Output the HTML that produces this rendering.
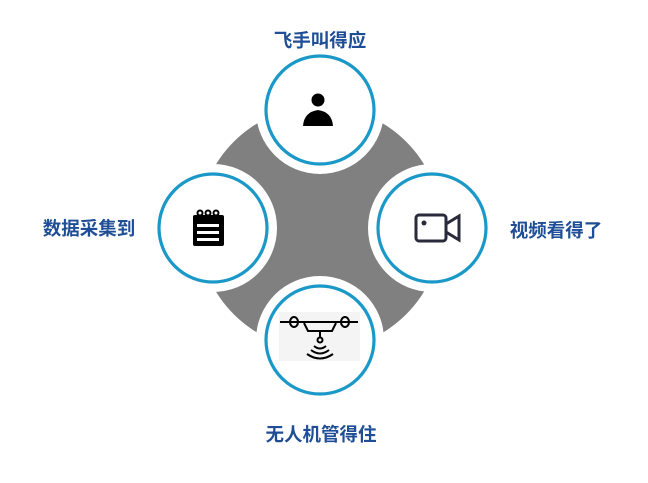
<!DOCTYPE html>
<html><head><meta charset="utf-8"><style>
html,body{margin:0;padding:0;background:#fff;width:648px;height:483px;overflow:hidden}
svg{display:block}
text{font-family:"Liberation Sans","Noto Sans CJK SC",sans-serif;font-weight:bold;fill:#1f4e96;font-size:18.5px}
</style></head><body>
<svg width="648" height="483" viewBox="0 0 648 483">
<circle cx="320" cy="228" r="122" fill="#808080"/>
<g fill="#fff">
<circle cx="320" cy="110" r="64"/>
<circle cx="213" cy="228" r="64"/>
<circle cx="432" cy="228" r="64"/>
<circle cx="320" cy="340" r="64"/>
</g>
<g fill="#fff" stroke="#1a98c8" stroke-width="3.2">
<circle cx="320" cy="110" r="54"/>
<circle cx="213" cy="228" r="54"/>
<circle cx="432" cy="228" r="54"/>
</g>
<!-- person -->
<circle cx="318" cy="100" r="6.5" fill="#000"/>
<path d="M303 126 Q304 112 318 110 Q332 112 333 126 Z" fill="#000"/>
<!-- notepad -->
<rect x="193" y="215" width="31" height="31" rx="2" fill="#000"/>
<g fill="#fff"><rect x="197" y="224" width="22" height="3"/><rect x="197" y="231" width="22" height="3"/><rect x="197" y="238" width="22" height="3"/></g>
<g fill="none" stroke="#000" stroke-width="2"><circle cx="200" cy="213" r="2.5"/><circle cx="208" cy="213" r="2.5"/><circle cx="216" cy="213" r="2.5"/></g>
<!-- camera -->
<rect x="416" y="215" width="30" height="26" rx="3" fill="none" stroke="#2a2a3a" stroke-width="3"/>
<circle cx="424" cy="223" r="2.5" fill="#2a2a3a"/>
<path d="M446 224 L459 216 L459 240 L446 232" fill="none" stroke="#2a2a3a" stroke-width="3"/>
<!-- bottom circle -->
<circle cx="320" cy="340" r="54" fill="#fff" stroke="#1a98c8" stroke-width="3.2"/>
<rect x="279" y="312" width="81" height="49" fill="#f4f4f4"/>
<g fill="none" stroke="#000" stroke-width="2">
<line x1="280" y1="322" x2="358" y2="322"/>
<ellipse cx="294" cy="322" rx="4" ry="5"/>
<ellipse cx="345" cy="322" rx="4" ry="5"/>
<path d="M304 323 L308 331 L332 331 L336 323"/>
<line x1="320" y1="331" x2="320" y2="338"/>
<circle cx="320" cy="340" r="2.5"/>
<path d="M314 346 Q320 351 326 346"/>
<path d="M311 350 Q320 357 329 350"/>
<path d="M307 354 Q320 363 333 354"/>
</g>
<text x="320" y="47" text-anchor="middle">飞手叫得应</text>
<text x="89" y="235" text-anchor="middle">数据采集到</text>
<text x="556" y="237" text-anchor="middle">视频看得了</text>
<text x="321" y="441" text-anchor="middle">无人机管得住</text>
</svg>
</body></html>
